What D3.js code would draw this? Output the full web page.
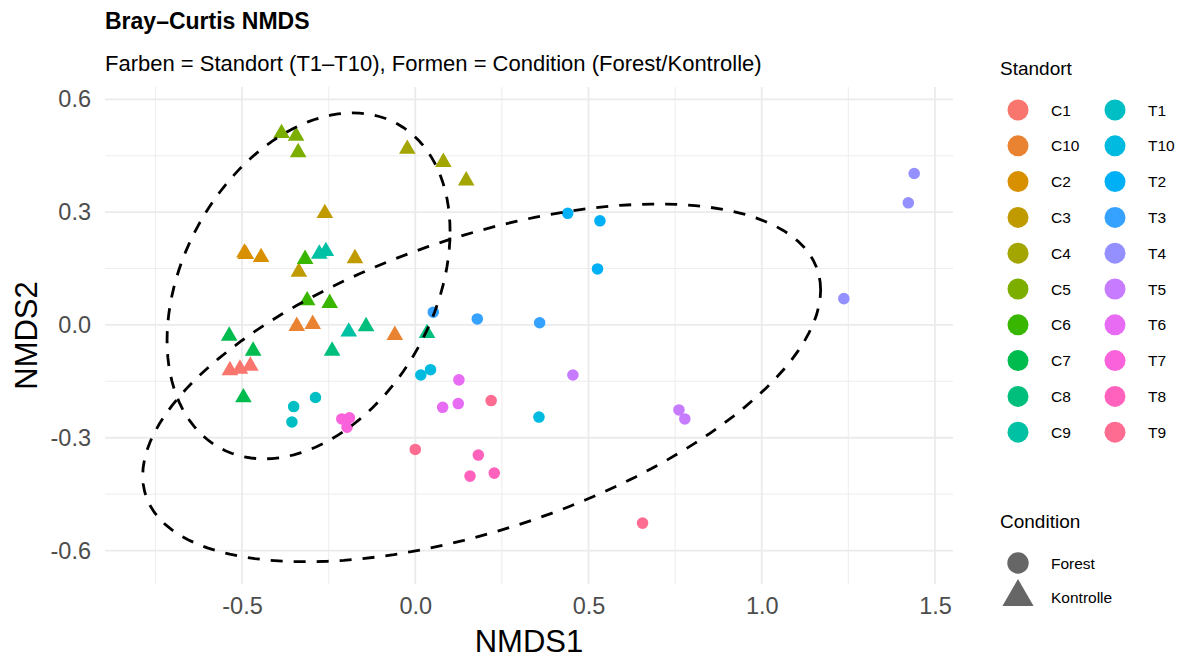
<!DOCTYPE html>
<html>
<head>
<meta charset="utf-8">
<script src="https://cdn.jsdelivr.net/npm/d3@7"></script>
<style>
  body { margin: 0; background: #fff; }
  text { font-family: "Liberation Sans", Arial, sans-serif; }
</style>
</head>
<body>
<svg id="chart"></svg>
<script>
// site levels in ggplot order and the default hue palette
var siteLevels = ["C1","C10","C2","C3","C4","C5","C6","C7","C8","C9",
                  "T1","T10","T2","T3","T4","T5","T6","T7","T8","T9"];
var siteColors = ["#F8766D","#EA8331","#D89000","#C09B00","#A3A500","#7CAE00","#39B600","#00BB4E","#00BF7D","#00C1A3",
                  "#00BFC4","#00BAE0","#00B0F6","#35A2FF","#9590FF","#C77CFF","#E76BF3","#FA62DB","#FF62BC","#FF6C91"];

// one entry per sample
var standort = ["C1","C1","C1","C10","C10","C10","C2","C2","C2","C3","C3","C3",
                "C4","C4","C4","C5","C5","C5","C6","C6","C6","C7","C7","C7",
                "C8","C8","C8","C9","C9","C9",
                "T1","T1","T1","T10","T10","T10","T2","T2","T2","T3","T3","T3",
                "T4","T4","T4","T5","T5","T5","T6","T6","T6","T7","T7","T7",
                "T8","T8","T8","T9","T9","T9"];
var nmds1 = [-0.535,-0.506,-0.476, -0.342,-0.296,-0.059, -0.493,-0.489,-0.445, -0.261,-0.174,-0.336,
             -0.023,0.081,0.147, -0.386,-0.344,-0.338, -0.318,-0.312,-0.247, -0.537,-0.468,-0.496,
             -0.142,-0.240,0.034, -0.277,-0.258,-0.192,
             -0.351,-0.356,-0.288, 0.016,0.044,0.357, 0.440,0.533,0.526, 0.052,0.179,0.359,
             1.440,1.423,1.237, 0.455,0.761,0.778, 0.126,0.079,0.124, -0.212,-0.190,-0.197,
             0.182,0.158,0.228, 0.000,0.219,0.656];
var nmds2 = [-0.121,-0.117,-0.109, -0.003,0.002,-0.027, 0.192,0.188,0.180, 0.297,0.177,0.141,
             0.468,0.433,0.384, 0.510,0.503,0.459, 0.175,0.065,0.058, -0.029,-0.069,-0.193,
             -0.004,-0.069,-0.022, 0.189,0.196,-0.018,
             -0.217,-0.258,-0.193, -0.133,-0.119,-0.245, 0.297,0.277,0.149, 0.034,0.016,0.006,
             0.403,0.325,0.070, -0.133,-0.226,-0.250, -0.146,-0.219,-0.209, -0.250,-0.247,-0.272,
             -0.346,-0.402,-0.394, -0.331,-0.201,-0.527];

// 95% ellipses per condition: centre and shape matrix
var ellipses = [
    {condition: "Kontrolle", cx: -0.308, cy: 0.104, sxx: 0.1668, syy: 0.2117, sxy: 0.0591},
    {condition: "Forest",    cx: 0.1916, cy: -0.154, sxx: 0.9572, syy: 0.2264, sxy: 0.2418}
];

var xTicks = [-0.5, 0, 0.5, 1.0, 1.5];
var yTicks = [-0.6, -0.3, 0, 0.3, 0.6];
var conditions = ["Forest", "Kontrolle"];

var data = standort.map(function(s, i) {
    return {site: s, cond: s[0] === "T" ? "Forest" : "Kontrolle", x: nmds1[i], y: nmds2[i]};
});

var W = 1184, H = 660;
var panel = {left: 105, right: 953, top: 87, bottom: 584};

var svg = d3.select("#chart").attr("width", W).attr("height", H);

var xScale = d3.scaleLinear().domain([-0.8955, 1.552]).range([panel.left, panel.right]);
var yScale = d3.scaleLinear().domain([-0.689, 0.633]).range([panel.bottom, panel.top]);
var color = d3.scaleOrdinal().domain(siteLevels).range(siteColors);

// grid: minor lines halfway between major ticks
var xMinor = [-0.75, -0.25, 0.25, 0.75, 1.25];
var yMinor = [-0.45, -0.15, 0.15, 0.45];
var grid = svg.append("g");
xMinor.forEach(function(v) {
    grid.append("line").attr("x1", xScale(v)).attr("x2", xScale(v))
        .attr("y1", panel.top).attr("y2", panel.bottom)
        .attr("stroke", "#EBEBEB").attr("stroke-width", 0.9);
});
yMinor.forEach(function(v) {
    grid.append("line").attr("y1", yScale(v)).attr("y2", yScale(v))
        .attr("x1", panel.left).attr("x2", panel.right)
        .attr("stroke", "#EBEBEB").attr("stroke-width", 0.9);
});
xTicks.forEach(function(v) {
    grid.append("line").attr("x1", xScale(v)).attr("x2", xScale(v))
        .attr("y1", panel.top).attr("y2", panel.bottom)
        .attr("stroke", "#EBEBEB").attr("stroke-width", 1.8);
});
yTicks.forEach(function(v) {
    grid.append("line").attr("y1", yScale(v)).attr("y2", yScale(v))
        .attr("x1", panel.left).attr("x2", panel.right)
        .attr("stroke", "#EBEBEB").attr("stroke-width", 1.8);
});

// points
var circleGen = d3.symbol().type(d3.symbolCircle).size(105);
var triGen = d3.symbol().type(d3.symbolTriangle).size(120);
svg.append("g").selectAll("path")
    .data(data)
    .enter().append("path")
    .attr("transform", function(d) { return "translate(" + xScale(d.x) + "," + yScale(d.y) + ")"; })
    .attr("d", function(d) { return d.cond === "Forest" ? circleGen() : triGen(); })
    .attr("fill", function(d) { return color(d.site); });

// ellipses
var line = d3.line()
    .x(function(d) { return xScale(d[0]); })
    .y(function(d) { return yScale(d[1]); })
    .curve(d3.curveLinearClosed);
ellipses.forEach(function(e) {
    var l11 = Math.sqrt(e.sxx), l21 = e.sxy / l11, l22 = Math.sqrt(e.syy - l21 * l21);
    var pts = d3.range(0, 121).map(function(k) {
        var t = k / 120 * 2 * Math.PI;
        return [e.cx + l11 * Math.cos(t), e.cy + l21 * Math.cos(t) + l22 * Math.sin(t)];
    });
    svg.append("path")
        .datum(pts)
        .attr("d", line)
        .attr("fill", "none")
        .attr("stroke", "black")
        .attr("stroke-width", 2.8)
        .attr("stroke-dasharray", "12,11");
});

// axes (text only, like theme_minimal)
var fmt = function(d) { return d3.format(".1f")(d).replace("−", "-"); };

var xAxis = svg.append("g")
    .attr("transform", "translate(0," + panel.bottom + ")")
    .call(d3.axisBottom(xScale).tickValues(xTicks).tickSize(0).tickPadding(13));
xAxis.select(".domain").remove();
xAxis.selectAll("text").attr("fill", "#4D4D4D").style("font-size", "23.5px").text(fmt);

var yAxis = svg.append("g")
    .attr("transform", "translate(" + panel.left + ",0)")
    .call(d3.axisLeft(yScale).tickValues(yTicks).tickSize(0).tickPadding(14));
yAxis.select(".domain").remove();
yAxis.selectAll("text").attr("fill", "#4D4D4D").style("font-size", "23.5px").text(fmt);

svg.append("text")
    .attr("x", (panel.left + panel.right) / 2).attr("y", 652)
    .attr("text-anchor", "middle").style("font-size", "31px")
    .text("NMDS1");

svg.append("text")
    .attr("transform", "translate(37," + ((panel.top + panel.bottom) / 2) + ") rotate(-90)")
    .attr("text-anchor", "middle").style("font-size", "31px")
    .text("NMDS2");

// title
svg.append("text").attr("x", 105).attr("y", 29)
    .style("font-size", "23px").style("font-weight", "bold")
    .text("Bray–Curtis NMDS");
svg.append("text").attr("x", 105).attr("y", 71)
    .style("font-size", "22px")
    .text("Farben = Standort (T1–T10), Formen = Condition (Forest/Kontrolle)");

// legend: Standort
var leg = svg.append("g");
leg.append("text").attr("x", 1000).attr("y", 75).style("font-size", "19px").text("Standort");
siteLevels.forEach(function(s, i) {
    var col = Math.floor(i / 10), row = i % 10;
    var cx = 1018 + col * 97, cy = 110 + row * 35.8;
    leg.append("circle").attr("cx", cx).attr("cy", cy).attr("r", 10.5).attr("fill", color(s));
    leg.append("text").attr("x", cx + 33).attr("y", cy + 5.5)
        .style("font-size", "15.5px").text(s);
});

// legend: Condition
leg.append("text").attr("x", 1000).attr("y", 528).style("font-size", "19px").text("Condition");
conditions.forEach(function(c, i) {
    var cy = 563 + i * 34;
    var sym = c === "Forest" ? d3.symbol().type(d3.symbolCircle).size(360)
                             : d3.symbol().type(d3.symbolTriangle).size(420);
    leg.append("path")
        .attr("transform", "translate(1018," + cy + ")")
        .attr("d", sym())
        .attr("fill", "#666666");
    leg.append("text").attr("x", 1051).attr("y", cy + 5.5)
        .style("font-size", "15.5px").text(c);
});
</script>
</body>
</html>
